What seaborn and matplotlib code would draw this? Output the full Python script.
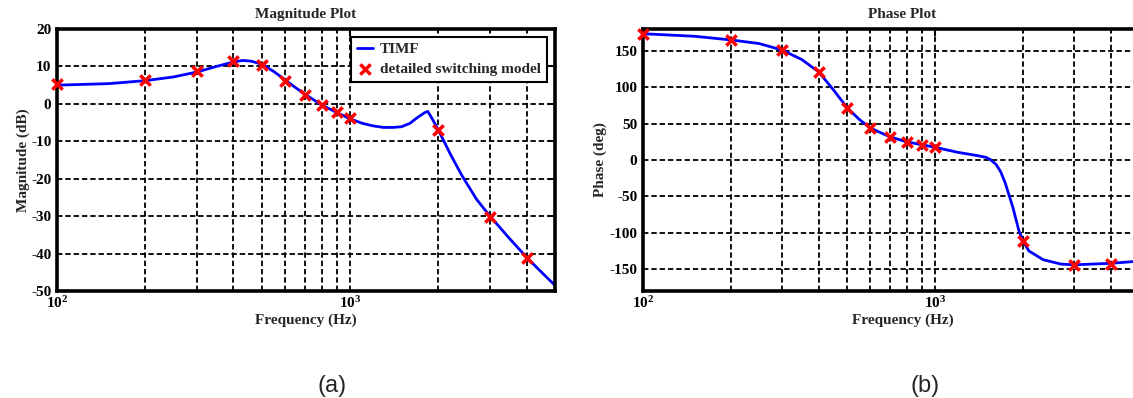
import numpy as np
import matplotlib
matplotlib.use("Agg")
import matplotlib.pyplot as plt
from matplotlib.ticker import NullFormatter, MultipleLocator
import seaborn as sns

# TIMF curve
mag_freq = [100, 150, 200, 250, 300, 350, 400, 430, 460, 500, 550, 600, 650, 700,
            800, 900, 1000, 1100, 1200, 1300, 1400, 1500, 1600, 1700, 1800, 1840,
            1900, 2000, 2200, 2400, 2700, 3000, 3500, 4000, 4500, 5000]
mag_db = [5.0, 5.4, 6.2, 7.2, 8.5, 10.0, 11.2, 11.6, 11.4, 10.6, 8.6, 6.4, 4.4, 2.6,
          -0.3, -2.3, -4.0, -5.2, -5.9, -6.3, -6.3, -6.1, -5.2, -3.6, -2.3, -2.0,
          -3.8, -7.0, -13.5, -19.0, -25.5, -30.0, -36.0, -41.0, -45.0, -48.5]

ph_freq = [100, 150, 200, 250, 300, 350, 400, 450, 500, 550, 600, 700, 800, 900,
           1000, 1200, 1400, 1500, 1550, 1620, 1680, 1740, 1850, 1940, 2000, 2100,
           2350, 2700, 3000, 4000, 5000]
ph_deg = [173.5, 170, 165, 160, 151, 138, 121, 96, 72, 56, 44, 32, 25, 21,
          17.5, 10.5, 6, 3.5, 0.5, -6, -16, -31, -65, -97, -111, -125,
          -137, -143, -144, -142, -139]

# detailed switching model points
pt_freq = [100, 200, 300, 400, 500, 600, 700, 800, 900, 1000, 2000, 3000, 4000]
pt_mag = [5.2, 6.4, 8.7, 11.4, 10.4, 6.2, 2.5, -0.3, -2.3, -3.9, -7.0, -30.3, -41.2]
pt_phase = [173.4, 164.7, 150.5, 120.9, 72, 43.8, 32, 24.6, 21, 17.3, -111, -144.6, -142.3]

sns.set_theme(style="white")
plt.rcParams["font.family"] = ["Liberation Serif", "DejaVu Serif"]
plt.rcParams["font.weight"] = "bold"
plt.rcParams["axes.titleweight"] = "bold"
plt.rcParams["axes.labelweight"] = "bold"
plt.rcParams["mathtext.fontset"] = "stix"
plt.rcParams["mathtext.default"] = "bf"
plt.rcParams["axes.unicode_minus"] = False
plt.rcParams["font.size"] = 11

fig = plt.figure(figsize=(11.33, 3.98), dpi=100)
ax1 = fig.add_axes([57 / 1133, 1 - 291 / 398, 498 / 1133, 262 / 398])
ax2 = fig.add_axes([643 / 1133, 1 - 291 / 398, 519 / 1133, 262 / 398])


def style_axes(ax):
    ax.set_xscale("log")
    ax.xaxis.set_minor_formatter(NullFormatter())
    ax.grid(True, which="both", color="black", linestyle=(0, (3, 1.6)), linewidth=1.3)
    ax.set_axisbelow(True)
    for s in ax.spines.values():
        s.set_linewidth(2.6)
        s.set_color("black")
    ax.tick_params(which="both", direction="in", top=True, right=True,
                   colors="black", labelsize=11)
    ax.tick_params(which="major", length=5, width=1.5, pad=4)
    ax.tick_params(which="minor", length=3, width=1.2)
    ax.tick_params(axis="x", pad=3)


# Magnitude
sns.lineplot(x=mag_freq, y=mag_db, ax=ax1, color="blue", linewidth=2, label="TIMF")
sns.scatterplot(x=pt_freq, y=pt_mag, ax=ax1, marker="x", color="red", s=55,
                linewidth=2.5, label="detailed switching model", zorder=5)
style_axes(ax1)
ax1.set_xlim(100, 5000)
ax1.set_ylim(-50, 20)
ax1.yaxis.set_major_locator(MultipleLocator(10))
ax1.set_title("Magnitude Plot", fontsize=11, pad=8)
ax1.set_xlabel("Frequency (Hz)", fontsize=11, labelpad=2)
ax1.set_ylabel("Magnitude (dB)", fontsize=11, labelpad=1)
leg = ax1.legend(loc="upper right", frameon=True, fancybox=False, edgecolor="black",
                 framealpha=1, handlelength=1.0, handletextpad=0.5,
                 borderaxespad=0.5, labelspacing=0.4, fontsize=11)
leg.get_frame().set_linewidth(1.5)

# Phase
sns.lineplot(x=ph_freq, y=ph_deg, ax=ax2, color="blue", linewidth=2, legend=False)
sns.scatterplot(x=pt_freq, y=pt_phase, ax=ax2, marker="x", color="red", s=55,
                linewidth=2.5, legend=False, zorder=5)
style_axes(ax2)
ax2.set_xlim(100, 6000)
ax2.set_ylim(-180, 180)
ax2.yaxis.set_major_locator(MultipleLocator(50))
ax2.set_title("Phase Plot", fontsize=11, pad=8)
ax2.set_xlabel("Frequency (Hz)", fontsize=11, labelpad=2)
ax2.set_ylabel("Phase (deg)", fontsize=11, labelpad=2)

for ax in (ax1, ax2):
    for coll in ax.collections:
        coll.set_clip_on(False)

fig.text(332 / 1133, 1 - 386 / 398, "(a)", ha="center", va="center",
         fontsize=17, family="Liberation Sans", weight="normal")
fig.text(925 / 1133, 1 - 386 / 398, "(b)", ha="center", va="center",
         fontsize=17, family="Liberation Sans", weight="normal")

fig.savefig("out.png", dpi=100)
